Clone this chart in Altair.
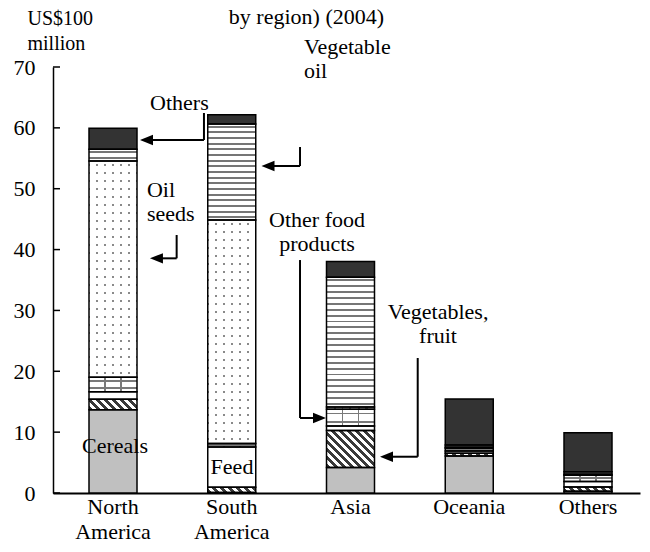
import altair as alt

# ---------------- data ----------------
regions = ["North America", "South America", "Asia", "Oceania", "Others"]
products = ["Cereals", "Vegetables, fruit", "Feed", "Other food products",
            "Oil seeds", "Vegetable oil", "Others"]
cereals    = [13.7, 0.1, 4.2, 6.1, 0.3]
veg_fruit  = [1.7, 0.85, 6.05, 0.45, 0.7]
feed       = [1.25, 6.6, 0.75, 0.35, 0.9]
other_food = [2.35, 0.6, 2.75, 0.45, 1.0]
oil_seeds  = [35.55, 36.7, 0.4, 0.15, 0.2]
veg_oil    = [1.95, 15.8, 21.3, 0.4, 0.4]
others     = [3.45, 1.5, 2.6, 7.55, 6.4]
series = [cereals, veg_fruit, feed, other_food, oil_seeds, veg_oil, others]
y_ticks = [0, 10, 20, 30, 40, 50, 60, 70]

title_lines = "(Value of agricultural product imports\nby region) (2004)"

# annotations (x in category-index units, y = first-line centre in data units)
ann_text = ["Others", "Vegetable\noil", "Oil\nseeds", "Other food\nproducts",
            "Vegetables,\nfruit", "Cereals", "Feed", title_lines]
ann_x = [0.312, 1.608, 0.286, 1.718, 2.737, 0.017, 1.002, 1.629]
ann_y = [64.08, 73.28, 49.79, 44.86, 29.74, 7.72, 4.27, 82.16]
ann_align = ["left", "left", "left", "center", "center", "center", "center", "center"]

arrow_x = [0.766, 1.575, 0.536, 1.575, 2.566]
arrow_top = [62.44, 56.85, 42.39, 38.28, 22.18]
arrow_y = [58.0, 53.73, 38.56, 12.32, 5.96]
arrow_end = [0.282, 1.305, 0.366, 1.739, 2.303]
arrow_dir = ["left", "left", "left", "right", "left"]

# ---------------- layout ----------------
W, H = 587, 426
PAD = {"left": 45, "top": 59, "right": 2, "bottom": 55}
YMAX = 70
PX = H / YMAX          # pixels per unit
BW = 48                # bar width px
STEP = 118.75
P_IN = 0.6
P_OUT = (W / STEP - (len(regions) - P_IN)) / 2
ALIGN = (60 - STEP * (1 - P_IN) / 2) / (W - STEP * (len(regions) - P_IN))
D0 = -60 / STEP
D1 = D0 + W / STEP

FONT = "Liberation Serif"
CLEAR = "rgba(255,255,255,0)"


def stops_from_bands(bands, length, bg, line):
    st = [{"offset": 0, "color": bg}]
    for a, b in bands:
        a = min(max(a / length, 0), 1)
        b = min(max(b / length, 0), 1)
        st += [{"offset": a, "color": bg}, {"offset": a, "color": line},
               {"offset": b, "color": line}, {"offset": b, "color": bg}]
    st.append({"offset": 1, "color": bg})
    return st


def hstripes(h, period, thick, line, bg):
    n = max(1, round(h / period))
    per = h / n
    bands = [(k * per + (per - thick) / 2, k * per + (per + thick) / 2) for k in range(n)]
    return {"gradient": "linear", "x1": 0, "y1": 0, "x2": 0, "y2": 1,
            "stops": stops_from_bands(bands, h, bg, line)}


def vlines(centers, thick, line, bg, w=BW):
    bands = [(c - thick / 2, c + thick / 2) for c in centers]
    return {"gradient": "linear", "x1": 0, "y1": 0, "x2": 1, "y2": 0,
            "stops": stops_from_bands(bands, w, bg, line)}


def diag(h, period, thick, line, bg, w=BW):
    k = (w + h) / (w * w + h * h)
    L = w + h
    n = int(L / period) + 2
    bands = [(j * period, j * period + thick) for j in range(n)]
    return {"gradient": "linear", "x1": 0, "y1": 1, "x2": k * w, "y2": 1 - k * h,
            "stops": stops_from_bands(bands, L, bg, line)}


dot_cols = vlines([8 * k + 4 for k in range(6)], 6, "white", CLEAR)
grid_cols = vlines([16, 32], 1.8, "#7a7a7a", CLEAR)

rows = []
for i, reg in enumerate(regions):
    for j, prod in enumerate(products):
        v = series[j][i]
        h = v * PX
        g2 = None
        if prod == "Cereals":
            g = "#c0c0c0"
        elif prod == "Vegetables, fruit":
            g = diag(h, 8.0, 4.0, "#3a3a3a", "white")
        elif prod == "Feed":
            g = "white"
        elif prod == "Other food products":
            g = hstripes(h, 8.5, 1.8, "#7a7a7a", "white")
            g2 = grid_cols
        elif prod == "Oil seeds":
            g = hstripes(h, 8.0, 2.0, "#8a8a8a", "white")
            g2 = dot_cols
        elif prod == "Vegetable oil":
            g = hstripes(h, 5.8, 1.9, "#767676", "white")
        else:
            g = "#333333"
        row = {"region": reg, "product": prod, "order": j, "value": v, "g": g}
        if g2 is not None:
            row["g2"] = g2
        rows.append(row)

xband = alt.Scale(domain=regions, paddingInner=P_IN, paddingOuter=P_OUT,
                  align=ALIGN, round=False)
yscale = alt.Scale(domain=[0, YMAX], nice=False, zero=True)
xq = alt.Scale(domain=[D0, D1], nice=False, zero=False)

base = alt.Chart(alt.Data(values=rows)).transform_stack(
    stack="value", groupby=["region"], as_=["y0", "y1"],
    sort=[alt.SortField("order", order="ascending")]
)

fill_layer = base.mark_bar(width=BW).encode(
    x=alt.X("region:N", scale=xband, axis=None),
    y=alt.Y("y0:Q", scale=yscale, axis=None),
    y2="y1:Q",
    fill=alt.Fill("g:N", scale=None),
)

overlay_layer = base.transform_filter("isValid(datum.g2)").mark_bar(width=BW).encode(
    x=alt.X("region:N", scale=xband, axis=None),
    y=alt.Y("y0:Q", scale=yscale, axis=None),
    y2="y1:Q",
    fill=alt.Fill("g2:N", scale=None),
)

outline_layer = base.mark_bar(width=BW, fill="transparent", stroke="black",
                              strokeWidth=1.5).encode(
    x=alt.X("region:N", scale=xband, title=None,
            axis=alt.Axis(labelExpr="split(datum.label, ' ')", labelAngle=0,
                          labelFont=FONT, labelFontSize=22, labelColor="black",
                          labelLineHeight=25, labelPadding=3, ticks=False,
                          domainColor="black", domainWidth=2)),
    y=alt.Y("y0:Q", scale=yscale,
            axis=alt.Axis(values=y_ticks, ticks=False, tickSize=0, grid=False,
                          labelFont=FONT, labelFontSize=22, labelColor="black",
                          labelPadding=18, domainColor="black", domainWidth=1.5,
                          title=["US$100", "million"], titleAngle=0,
                          titleAlign="left", titleBaseline="middle",
                          titleX=-26, titleY=-49, titleFont=FONT,
                          titleFontSize=20, titleFontWeight="normal",
                          titleLineHeight=25, titleColor="black")),
    y2="y1:Q",
)

tick_layer = alt.Chart(alt.Data(values=[{"t": t} for t in y_ticks])).mark_rule(
    color="black", strokeWidth=1.5
).encode(
    y=alt.Y("t:Q", scale=yscale, axis=None),
    x=alt.value(0), x2=alt.value(7),
)

rule_rows = []
for xa, yt, yc, xe in zip(arrow_x, arrow_top, arrow_y, arrow_end):
    rule_rows.append({"x": xa, "x2": xa, "y": yt, "y2": yc})
    rule_rows.append({"x": xa, "x2": xe, "y": yc, "y2": yc})

arrow_rules = alt.Chart(alt.Data(values=rule_rows)).mark_rule(
    color="black", strokeWidth=2
).encode(
    x=alt.X("x:Q", scale=xq, axis=None), x2="x2:Q",
    y=alt.Y("y:Q", scale=yscale, axis=None), y2="y2:Q",
)

LEFT = "M -1 0 L 1 -0.8 L 1 0.8 Z"
RIGHT = "M 1 0 L -1 -0.8 L -1 0.8 Z"
head_rows = [{"x": xe, "y": yc, "shape": LEFT if d == "left" else RIGHT}
             for xe, yc, d in zip(arrow_end, arrow_y, arrow_dir)]
heads = alt.Chart(alt.Data(values=head_rows)).mark_point(
    filled=True, color="black", opacity=1, size=169, strokeWidth=0
).encode(
    x=alt.X("x:Q", scale=xq, axis=None),
    y=alt.Y("y:Q", scale=yscale, axis=None),
    shape=alt.Shape("shape:N", scale=None),
)

ann_rows = [{"t": t, "x": x, "y": y, "a": a}
            for t, x, y, a in zip(ann_text, ann_x, ann_y, ann_align)]


def text_layer(al):
    return alt.Chart(alt.Data(values=ann_rows)).transform_filter(
        alt.datum.a == al
    ).mark_text(
        align=al, baseline="middle", font=FONT, fontSize=22, color="black",
        lineBreak="\n", lineHeight=24
    ).encode(
        x=alt.X("x:Q", scale=xq, axis=None),
        y=alt.Y("y:Q", scale=yscale, axis=None),
        text="t:N",
    )


chart = alt.layer(
    fill_layer, overlay_layer, outline_layer, tick_layer,
    arrow_rules, heads, text_layer("left"), text_layer("center"),
).resolve_scale(x="independent").resolve_axis(y="independent").properties(
    width=W, height=H,
    autosize=alt.AutoSizeParams(type="none"),
    padding=PAD,
    background="white",
).configure_view(stroke=None)

chart.save("out.html", embed_options={"renderer": "svg", "actions": False})
